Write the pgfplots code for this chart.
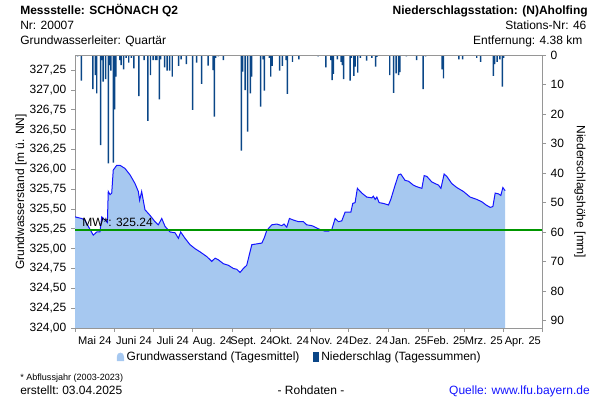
\documentclass[border=0pt]{standalone}
\usepackage{fontspec}
\setmainfont{Liberation Sans}
\usepackage{pgfplots}
\pgfplotsset{compat=1.18}
\definecolor{areablue}{RGB}{166,200,240}
\definecolor{lineblue}{RGB}{20,20,255}
\definecolor{barblue}{RGB}{10,70,135}
\definecolor{mwgreen}{RGB}{0,150,0}
\definecolor{axgray}{RGB}{150,150,150}
\definecolor{srcblue}{RGB}{20,20,255}
\newcommand\fs{\fontsize{9}{10}\selectfont}
\begin{document}
\begin{tikzpicture}
\useasboundingbox (0,0) rectangle (450pt,300pt);
% precipitation axis
\begin{axis}[at={(56.25pt,54pt)},anchor=south west,scale only axis,
  width=350.25pt,height=204.75pt,
  xmin=0,xmax=365,ymin=0,ymax=92.5,y dir=reverse,
  axis x line=none, axis y line*=right,
  y axis line style={draw=axgray,line width=0.6pt},
  ytick={0,10,20,30,40,50,60,70,80,90},
  tick align=outside, major tick length=3pt,
  ytick style={draw=axgray,line width=0.6pt},
  yticklabel style={font=\fs,text=black},
  /pgf/number format/assume math mode=true,
  ybar, bar width=1.1pt]
\addplot[fill=barblue, draw=none] coordinates {
(0,2.8) (2,0.5) (5,8.7) (14,11.6) (16,6.8) (17,13.0) (20,30.5) (21,1.7) (22,9.0) (24,8.2) (26,36.7) (27,3.4) (28,5.3) (30,36.5) (31,18.4) (32,7.3) (35,1.7) (36,3.4) (38,4.9) (40,1.0) (42,2.6) (44,1.0) (46,4.5) (50,13.9) (54,1.7) (57,22.3) (59,6.8) (61,1.7) (63,1.7) (64,1.7) (66,15.0) (67,1.5) (70,4.2) (72,5.3) (74,5.3) (76,7.3) (81,3.7) (83,1.5) (87,3.1) (92,18.6) (95,2.6) (99,9.8) (104,3.6) (108,5.1) (109,20.9) (110,1.0) (112,0.5) (116,1.7) (130,32.4) (131,5.6) (133,11.9) (135,26.0) (137,13.0) (138,7.3) (145,17.5) (147,1.5) (148,12.1) (152,1.0) (153,7.3) (154,3.7) (160,5.3) (162,3.7) (165,1.7) (166,13.2) (170,2.3) (175,1.5) (190,0.5) (196,4.2) (200,1.7) (201,8.5) (202,6.4) (205,1.5) (208,2.3) (209,3.4) (210,8.2) (215,8.7) (216,1.0) (218,7.1) (219,3.9) (221,6.0) (223,1.0) (228,1.9) (232,1.0) (235,3.9) (236,0.6) (246,6.8) (249,12.8) (251,6.2) (253,6.8) (254,5.8) (259,0.5) (267,1.7) (272,11.6) (274,0.5) (287,4.9) (288,7.9) (300,1.5) (303,1.5) (314,1.0) (317,2.3) (327,7.1) (328,3.1) (330,2.3) (332,1.5) (334,10.7) (335,1.0)
};
\end{axis}
% groundwater axis
\begin{axis}[at={(56.25pt,54pt)},anchor=south west,scale only axis,
  width=350.25pt,height=204.75pt,
  xmin=0,xmax=365,ymin=324,ymax=327.44,
  axis line style={draw=axgray,line width=0.6pt},
  xtick={15.5,46,76.5,107.5,138,168.5,199,229.5,260.5,290,319.5,350},
  xticklabels={Mai 24,Juni 24,Juli 24,Aug. 24,Sept. 24,Okt. 24,Nov. 24,Dez. 24,Jan. 25,Feb. 25,Mrz. 25,Apr. 25},
  minor xtick={0,31,61,92,123,153,184,214,245,276,304,335,365},
  major x tick style={draw=none},
  ytick={324,324.25,324.5,324.75,325,325.25,325.5,325.75,326,326.25,326.5,326.75,327,327.25},
  xtick pos=bottom, ytick pos=left,
  tick align=outside, major tick length=3pt, minor tick length=3pt,
  tick style={draw=axgray,line width=0.6pt},
  ticklabel style={font=\fs,text=black},
  xticklabel style={font=\fontsize{8.3}{10}\selectfont},
  y tick label style={/pgf/number format/.cd,fixed,fixed zerofill,precision=2,use comma,1000 sep={},assume math mode=true},
  legend style={at={(axis description cs:0.482,-0.106)},anchor=center,draw=none,fill=none,
     font=\fs,legend columns=2,inner sep=0pt,
     /tikz/every even column/.append style={column sep=8pt}},
  legend cell align=left]
\addplot[fill=areablue, draw=none, forget plot] coordinates {
(0,324) (0,325.40) (5.2,325.38) (7.8,325.36) (10.4,325.28) (14.3,325.17) (17,325.21) (19.5,325.21) (20.9,325.40) (23.5,325.36) (25.3,325.33) (26,325.72) (27.4,325.68) (28.7,325.70) (29.9,325.99) (32.6,326.05) (35.2,326.05) (39.1,326.01) (43,325.93) (46.9,325.82) (49.5,325.72) (50.5,325.61) (52.1,325.72) (54.7,325.49) (58.6,325.42) (62.5,325.34) (65.1,325.30) (67.8,325.38) (70.4,325.28) (74.3,325.21) (78.2,325.20) (80.8,325.13) (82.6,325.21) (86,325.13) (89.9,325.05) (93.8,325.00) (97.7,324.96) (103,324.90) (106.9,324.84) (109.5,324.88) (112,324.86) (116,324.81) (119.9,324.79) (123.8,324.75) (126.4,324.74) (129,324.70) (131.6,324.75) (134.2,324.79) (138.2,325.05) (142.1,325.06) (146,325.07) (147.8,325.13) (149.9,325.23) (153.8,325.30) (157.7,325.31) (161.6,325.29) (163.4,325.31) (165.5,325.27) (167.6,325.38) (170.7,325.36) (174.6,325.34) (178.5,325.34) (181.1,325.30) (185.1,325.29) (189,325.26) (191.6,325.24) (195.5,325.22) (198,325.22) (200.7,325.24) (203.3,325.38) (205.9,325.34) (208.5,325.35) (211.1,325.46) (215.6,325.46) (217.1,325.57) (218.9,325.58) (220.7,325.76) (224.2,325.70) (228,325.65) (232,325.64) (233.2,325.66) (234.6,325.62) (235.9,325.65) (237.7,325.58) (241,325.57) (245,325.55) (246.8,325.62) (250.2,325.80) (252.8,325.93) (254.6,325.94) (258,325.86) (260.6,325.85) (264.5,325.80) (267.2,325.78) (271.1,325.76) (272.9,325.92) (275,325.91) (278.9,325.84) (281.5,325.82) (284.1,325.80) (286,325.76) (288.5,325.94) (290.6,325.91) (294.5,325.82) (298.4,325.77) (303.6,325.72) (308.8,325.65) (314.1,325.62) (318,325.59) (321.3,325.55) (324.5,325.52) (326.6,325.53) (328.4,325.70) (331,325.69) (332.8,325.67) (334.4,325.77) (336.2,325.73) (336.2,324)
};
\addplot[draw=lineblue, line width=0.75pt, forget plot] coordinates {
(0,325.40) (5.2,325.38) (7.8,325.36) (10.4,325.28) (14.3,325.17) (17,325.21) (19.5,325.21) (20.9,325.40) (23.5,325.36) (25.3,325.33) (26,325.72) (27.4,325.68) (28.7,325.70) (29.9,325.99) (32.6,326.05) (35.2,326.05) (39.1,326.01) (43,325.93) (46.9,325.82) (49.5,325.72) (50.5,325.61) (52.1,325.72) (54.7,325.49) (58.6,325.42) (62.5,325.34) (65.1,325.30) (67.8,325.38) (70.4,325.28) (74.3,325.21) (78.2,325.20) (80.8,325.13) (82.6,325.21) (86,325.13) (89.9,325.05) (93.8,325.00) (97.7,324.96) (103,324.90) (106.9,324.84) (109.5,324.88) (112,324.86) (116,324.81) (119.9,324.79) (123.8,324.75) (126.4,324.74) (129,324.70) (131.6,324.75) (134.2,324.79) (138.2,325.05) (142.1,325.06) (146,325.07) (147.8,325.13) (149.9,325.23) (153.8,325.30) (157.7,325.31) (161.6,325.29) (163.4,325.31) (165.5,325.27) (167.6,325.38) (170.7,325.36) (174.6,325.34) (178.5,325.34) (181.1,325.30) (185.1,325.29) (189,325.26) (191.6,325.24) (195.5,325.22) (198,325.22) (200.7,325.24) (203.3,325.38) (205.9,325.34) (208.5,325.35) (211.1,325.46) (215.6,325.46) (217.1,325.57) (218.9,325.58) (220.7,325.76) (224.2,325.70) (228,325.65) (232,325.64) (233.2,325.66) (234.6,325.62) (235.9,325.65) (237.7,325.58) (241,325.57) (245,325.55) (246.8,325.62) (250.2,325.80) (252.8,325.93) (254.6,325.94) (258,325.86) (260.6,325.85) (264.5,325.80) (267.2,325.78) (271.1,325.76) (272.9,325.92) (275,325.91) (278.9,325.84) (281.5,325.82) (284.1,325.80) (286,325.76) (288.5,325.94) (290.6,325.91) (294.5,325.82) (298.4,325.77) (303.6,325.72) (308.8,325.65) (314.1,325.62) (318,325.59) (321.3,325.55) (324.5,325.52) (326.6,325.53) (328.4,325.70) (331,325.69) (332.8,325.67) (334.4,325.77) (336.2,325.73)
};
\addplot[color=mwgreen, line width=1.4pt, forget plot] coordinates {(0,325.24) (365,325.24)};
\node[anchor=base west, inner sep=0pt, font=\fs] at (axis cs:5.5,325.275) {MW*: 325.24};
\addlegendimage{legend image code/.code={\fill[areablue] (0.5pt,-3pt) -- (0.5pt,0pt) .. controls (0.5pt,4pt) and (5.5pt,4pt) .. (5.5pt,0pt) -- (5.5pt,-3pt) -- cycle;}}
\addlegendentry{Grundwasserstand (Tagesmittel)}
\addlegendimage{legend image code/.code={\fill[barblue] (0.5pt,-3.5pt) rectangle (4.5pt,3.5pt);}}
\addlegendentry{Niederschlag (Tagessummen)}
\end{axis}
% header
\node[anchor=base west,inner sep=0pt,font=\fs\bfseries] at (15pt,288.75pt) {Messstelle: SCHÖNACH Q2};
\node[anchor=base west,inner sep=0pt,font=\fs] at (15pt,278pt) {Nr: 20007};
\node[anchor=base west,inner sep=0pt,font=\fs] at (15pt,266.8pt) {Grundwasserleiter: Quartär};
\node[anchor=base east,inner sep=0pt,font=\fs\bfseries] at (441pt,288.75pt) {Niederschlagsstation: (N)Aholfing};
\node[anchor=base east,inner sep=0pt,font=\fs] at (440pt,278pt) {Stations-Nr: 46};
\node[anchor=base east,inner sep=0pt,font=\fs] at (437pt,266.8pt) {Entfernung: 4.38 km};
% axis labels
\node[rotate=90,inner sep=0pt,font=\fs] at (15.75pt,156pt) {Grundwasserstand [m ü. NN]};
\node[rotate=-90,inner sep=0pt,font=\fs] at (435pt,156pt) {Niederschlagshöhe [mm]};
% footer
\node[anchor=base west,inner sep=0pt,font=\fontsize{6.8}{8}\selectfont] at (15pt,14.5pt) {* Abflussjahr (2003-2023)};
\node[anchor=base west,inner sep=0pt,font=\fs] at (15pt,4.2pt) {erstellt:};
\node[anchor=base west,inner sep=0pt,font=\fs] at (46.5pt,4.2pt) {03.04.2025};
\node[anchor=base,inner sep=0pt,font=\fs] at (233.25pt,4.2pt) {- Rohdaten -};
\node[anchor=base east,inner sep=0pt,font=\fs,text=srcblue] at (442.5pt,4.2pt) {Quelle: www.lfu.bayern.de};
\end{tikzpicture}
\end{document}
